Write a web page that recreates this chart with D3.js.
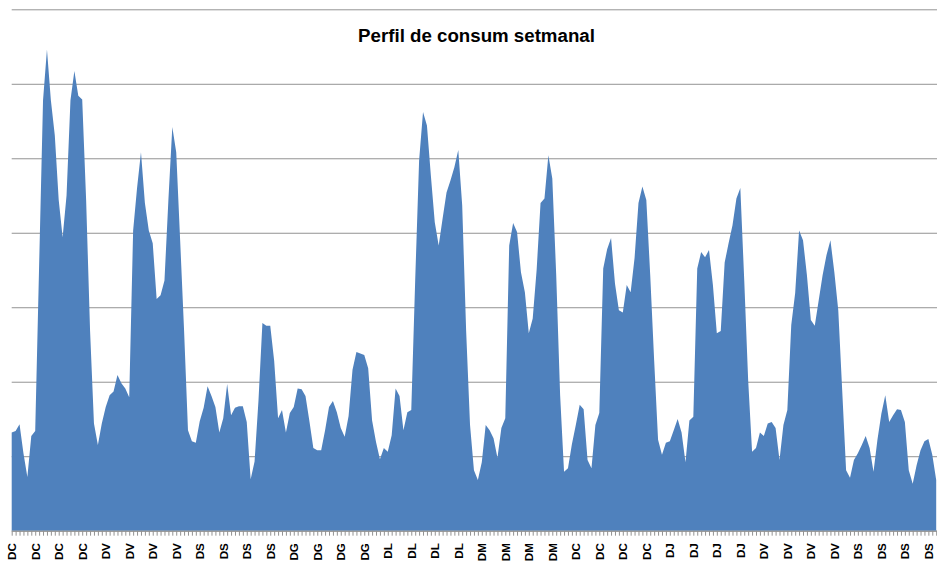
<!DOCTYPE html>
<html>
<head>
<meta charset="utf-8">
<script src="https://cdn.jsdelivr.net/npm/d3@7"></script>
<style>
  body { margin: 0; background: #fff; }
  .grid line { stroke: #939393; stroke-width: 1; }
  .grid .domain { display: none; }
  .axis .domain { stroke: #939393; }
  .axis line { stroke: #939393; }
  .axis text { font-family: "Liberation Sans", Arial, sans-serif; font-weight: bold; font-size: 11.6px; fill: #000; }
  .title { font-family: "Liberation Sans", Arial, sans-serif; font-weight: bold; font-size: 18.7px; fill: #000; }
</style>
</head>
<body>
<svg class="chart"></svg>
<script>
// consum per hora, un array per dia (24 valors), llegit del grafic
var dia1 = [13.2, 13.4, 14.3, 10.4, 7.2, 12.7, 13.4, 35.6, 57.8, 64.6, 57.8, 53.1,
            44.4, 39.4, 45.0, 57.8, 61.7, 58.4, 57.9, 44.4, 26.9, 14.4, 11.5, 14.4];
var dia2 = [16.6, 18.2, 18.7, 20.9, 19.8, 19.1, 17.9, 40.3, 46.0, 50.8, 44.0, 40.3,
            38.6, 31.1, 31.6, 33.6, 44.4, 54.2, 50.8, 39.0, 26.9, 13.5, 12.0, 11.8];
var dia3 = [14.7, 16.5, 19.4, 18.1, 16.6, 13.2, 15.1, 19.7, 15.5, 16.5, 16.7, 16.7,
            14.6, 6.9, 9.3, 17.5, 27.9, 27.5, 27.5, 22.8, 15.1, 16.2, 13.2, 15.8];
var dia4 = [16.6, 19.1, 19.0, 18.1, 14.7, 11.1, 10.8, 10.8, 13.5, 16.6, 17.4, 15.9,
            13.8, 12.6, 15.4, 21.6, 24.0, 23.8, 23.6, 21.8, 14.8, 11.9, 9.6, 11.1];
var dia5 = [10.6, 12.8, 19.1, 18.1, 13.5, 15.9, 16.2, 33.6, 49.7, 56.2, 54.4, 47.7,
            41.4, 38.3, 41.9, 45.4, 47.0, 48.8, 51.1, 43.7, 26.9, 14.2, 8.1, 6.8];
var dia6 = [9.2, 14.2, 13.5, 12.4, 9.8, 13.8, 15.1, 38.3, 41.3, 40.1, 34.7, 32.0,
            26.5, 28.5, 35.0, 44.0, 44.6, 50.4, 47.3, 34.3, 18.2, 7.9, 8.4, 11.6];
var dia7 = [14.2, 16.9, 16.3, 9.5, 8.4, 14.2, 15.8, 35.2, 37.8, 39.3, 33.2, 29.6,
            29.3, 33.0, 32.0, 36.6, 44.0, 46.2, 44.4, 34.3, 22.9, 12.2, 10.2, 11.8];
var dia8 = [12.0, 13.5, 15.0, 13.2, 9.2, 14.8, 15.3, 35.2, 37.4, 36.7, 37.7, 33.0,
            26.5, 26.8, 36.0, 38.6, 41.0, 44.6, 46.0, 33.6, 20.2, 10.6, 11.1, 13.2];
var dia9 = [12.7, 14.4, 14.6, 13.8, 9.5, 14.2, 16.2, 27.6, 31.9, 40.3, 39.0, 34.3,
            28.3, 27.5, 30.9, 34.3, 37.0, 39.0, 34.7, 29.6, 18.9, 8.1, 7.1, 9.5];
var dia10 = [10.4, 11.5, 12.7, 11.1, 7.9, 12.2, 15.7, 18.2, 14.6, 15.5, 16.3, 16.2,
             14.6, 8.1, 6.3, 8.8, 10.8, 12.0, 12.3, 10.2, 6.8];

// etiquetes de l'eix (una cada 6 hores)
var tickLabels = ['DC','DC','DC','DC', 'DV','DV','DV','DV', 'DS','DS','DS','DS',
                  'DG','DG','DG','DG', 'DL','DL','DL','DL', 'DM','DM','DM','DM',
                  'DC','DC','DC','DC', 'DJ','DJ','DJ','DJ', 'DV','DV','DV','DV',
                  'DS','DS','DS','DS'];
var yTicks = [0, 10, 20, 30, 40, 50, 60, 70];

var values = [].concat(dia1, dia2, dia3, dia4, dia5, dia6, dia7, dia8, dia9, dia10);
var data = values.map(function(v, i) { return {i: i, v: v}; });

var W = 937, H = 567;
var chart = d3.select('.chart').attr('width', W).attr('height', H);

var x = d3.scaleLinear().domain([0, data.length - 1]).range([11.7, 936.2]),
    y = d3.scaleLinear().domain([0, 70]).range([530.7, 9.3]);

// gridlines
chart.append('g')
    .attr('class', 'grid')
    .attr('transform', 'translate(11.7,0)')
    .call(d3.axisLeft(y).tickValues(yTicks).tickSize(-(W - 11.7)).tickFormat(''));

// area
var area = d3.area()
    .x(function(d) { return x(d.i); })
    .y0(y(0))
    .y1(function(d) { return y(d.v); });

chart.append('path')
    .datum(data)
    .attr('fill', '#4f81bd')
    .attr('d', area);

// x axis: small ticks every hour, labels every 6
var xAxis = d3.axisBottom(x)
    .tickValues(d3.range(0, data.length))
    .tickSize(5)
    .tickSizeOuter(0)
    .tickFormat(function(d) { return d % 6 === 0 ? tickLabels[d / 6] : ''; });

var gx = chart.append('g')
    .attr('class', 'axis')
    .attr('transform', 'translate(0,' + y(0) + ')')
    .call(xAxis);

gx.selectAll('.tick text')
    .attr('transform', 'rotate(-90)')
    .attr('text-anchor', 'end')
    .attr('x', -12.5)
    .attr('y', 0)
    .attr('dy', '0.35em');

chart.append('text')
    .attr('class', 'title')
    .attr('x', 476.5)
    .attr('y', 41.7)
    .attr('text-anchor', 'middle')
    .text('Perfil de consum setmanal');
</script>
</body>
</html>
